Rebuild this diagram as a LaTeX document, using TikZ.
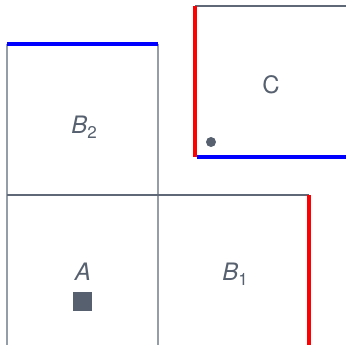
\documentclass[tikz,border=0pt]{standalone}
\usepackage{fontspec}
\setmainfont{TeX Gyre Heros}
\definecolor{ink}{HTML}{56606E}
\definecolor{edge}{HTML}{5E6876}
\definecolor{vedge}{HTML}{959DA8}
\newcommand{\lbl}[2]{\textit{#1}\raisebox{-0.22em}{\fontsize{17}{20}\selectfont #2}}
\begin{document}
\begin{tikzpicture}[x=1pt,y=-1pt,
  grayline/.style={draw=edge,line width=1.2pt},
  vline/.style={draw=vedge,line width=1.2pt},
  redline/.style={draw=red,line width=3.6pt},
  blueline/.style={draw=blue,line width=3.6pt},
  txt/.style={text=ink,font=\fontsize{24}{28}\selectfont,inner sep=0pt}]
\useasboundingbox (0,0) rectangle (346,345);
% coordinates
\coordinate (p1) at (7,44);
\coordinate (p2) at (158,44);
\coordinate (p3) at (7,345);
\coordinate (p4) at (158,345);
\coordinate (p5) at (7,195);
\coordinate (p6) at (309,195);
\coordinate (p7) at (309,345);
\coordinate (c1) at (195,6);
\coordinate (c2) at (346,6);
\coordinate (c3) at (195,157);
\coordinate (c4) at (346,157);
% gray grid
\draw[vline] (p1) -- (p3);
\draw[vline] (p2) -- (p4);
\draw[grayline] (p5) -- (p6);
\draw[grayline] (c1) -- (c2);
% colored edges
\draw[blueline] (p1) -- (p2);
\draw[redline] (p6) -- (p7);
\draw[redline] (c1) -- (c3);
\draw[blueline] ([xshift=1.8pt]c3) -- (c4);
% labels
\node[txt] (lc) at (271,85) {C};
\node[txt] (lb2) at (84,127) {\lbl{B}{2}};
\node[txt] (la) at (83,272) {\textit{A}};
\node[txt] (lb1) at (235,274) {\lbl{B}{1}};
\node[fill=ink,minimum size=19pt,inner sep=0pt] (sq) at (82.5,301.5) {};
\node[circle,fill=ink,minimum size=10pt,inner sep=0pt] (dot) at (211,142) {};
\end{tikzpicture}
\end{document}
